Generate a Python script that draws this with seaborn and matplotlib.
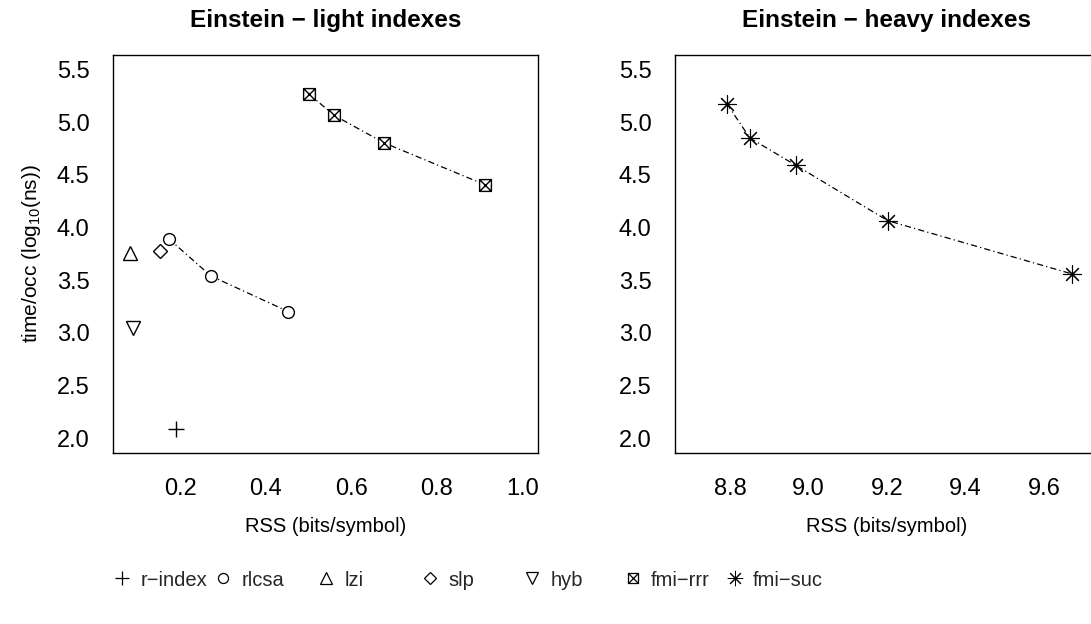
import matplotlib
matplotlib.use("Agg")
import matplotlib.pyplot as plt
from matplotlib.path import Path
from matplotlib.lines import Line2D
import seaborn as sns
import pandas as pd

sns.set_style("white")
plt.rcParams['font.family'] = ['Liberation Sans', 'DejaVu Sans']
plt.rcParams['mathtext.fontset'] = 'custom'
plt.rcParams['mathtext.rm'] = 'Liberation Sans'
plt.rcParams['mathtext.it'] = 'Liberation Sans:italic'

# light indexes (RSS bits/symbol, log10 ns per occurrence)
rindex_x = [0.191]
rindex_y = [2.09]
rlcsa_x = [0.173, 0.272, 0.453]
rlcsa_y = [3.895, 3.540, 3.202]
lzi_x = [0.083]
lzi_y = [3.76]
slp_x = [0.152]
slp_y = [3.775]
hyb_x = [0.089]
hyb_y = [3.05]
fmirrr_x = [0.502, 0.560, 0.676, 0.912]
fmirrr_y = [5.264, 5.065, 4.805, 4.407]

# heavy indexes
fmisuc_x = [8.792, 8.851, 8.968, 9.202, 9.672]
fmisuc_y = [5.175, 4.849, 4.590, 4.065, 3.559]

yticks = [2.0, 2.5, 3.0, 3.5, 4.0, 4.5, 5.0, 5.5]
xticks_light = [0.2, 0.4, 0.6, 0.8, 1.0]
xticks_heavy = [8.8, 9.0, 9.2, 9.4, 9.6]

# square with a cross (R pch 7)
boxx = Path([(-1, -1), (1, -1), (1, 1), (-1, 1), (-1, -1),
             (-1, -1), (1, 1), (-1, 1), (1, -1)],
            [Path.MOVETO, Path.LINETO, Path.LINETO, Path.LINETO, Path.CLOSEPOLY,
             Path.MOVETO, Path.LINETO, Path.MOVETO, Path.LINETO])
asterisk = (8, 2, 0)

styles = {
    'r−index': dict(marker='+', size=12, ew=1.0),
    'rlcsa': dict(marker='o', size=8.5, ew=1.0),
    'lzi': dict(marker='^', size=9.5, ew=1.0),
    'slp': dict(marker='D', size=7.5, ew=1.0),
    'hyb': dict(marker='v', size=9.5, ew=1.0),
    'fmi−rrr': dict(marker=boxx, size=8.5, ew=1.0),
    'fmi−suc': dict(marker=asterisk, size=13, ew=0.8),
}

dash = (0, (5, 2.5, 1, 2.5))

fig = plt.figure(figsize=(10.91, 6.24), dpi=100)
ax1 = fig.add_axes([0.1036, 0.274, 0.3896, 0.6383])
ax2 = fig.add_axes([0.6187, 0.274, 0.3886, 0.6383])


def draw(ax, xs, ys, name, line=False):
    df = pd.DataFrame({'x': xs, 'y': ys})
    st = styles[name]
    if line:
        sns.lineplot(data=df, x='x', y='y', ax=ax, color='black', lw=0.9,
                     linestyle=dash, sort=False, estimator=None)
    ax.plot(df['x'], df['y'], linestyle='none', marker=st['marker'],
            markersize=st['size'], markerfacecolor='white',
            markeredgecolor='black', markeredgewidth=st['ew'])


draw(ax1, rindex_x, rindex_y, 'r−index')
draw(ax1, rlcsa_x, rlcsa_y, 'rlcsa', line=True)
draw(ax1, lzi_x, lzi_y, 'lzi')
draw(ax1, slp_x, slp_y, 'slp')
draw(ax1, hyb_x, hyb_y, 'hyb')
draw(ax1, fmirrr_x, fmirrr_y, 'fmi−rrr', line=True)
draw(ax2, fmisuc_x, fmisuc_y, 'fmi−suc', line=True)

ax1.set_xlim(0.08 - 0.0368, 1.0 + 0.0368)
ax2.set_xlim(8.7 - 0.04, 9.7 + 0.04)
for ax, xt in [(ax1, xticks_light), (ax2, xticks_heavy)]:
    ax.set_ylim(2.0 - 0.14, 5.5 + 0.14)
    ax.set_yticks(yticks)
    ax.set_yticklabels([f"{v:.1f}" for v in yticks])
    ax.set_xticks(xt)
    ax.set_xticklabels([f"{v:.1f}" for v in xt])
    ax.tick_params(axis='both', direction='out', length=9, width=1.0,
                   labelsize=17, color='black', labelcolor='black')
    ax.tick_params(axis='x', pad=9)
    ax.tick_params(axis='y', pad=8)
    for sp in ax.spines.values():
        sp.set_visible(True)
        sp.set_color('black')
        sp.set_linewidth(1.0)
    ax.set_xlabel('RSS (bits/symbol)', fontsize=14.5, labelpad=12, color='black')
    ax.set_ylabel('')

ax1.set_ylabel(r'time/occ (log$_{10}$(ns))', fontsize=15, labelpad=10, color='black')
ax1.set_title('Einstein − light indexes', fontsize=17.5, fontweight='bold', pad=20,
              color='black')
ax2.set_title('Einstein − heavy indexes', fontsize=17.5, fontweight='bold', pad=20,
              color='black')

# R-style horizontal legend: equal-width slots under the plots
slot_x = [114, 215, 318, 422, 524, 625, 727]
for (name, st), px in zip(styles.items(), slot_x):
    h = Line2D([], [], linestyle='none', marker=st['marker'],
               markersize=st['size'] * 0.85, markerfacecolor='white',
               markeredgecolor='black', markeredgewidth=st['ew'] * 0.9)
    fig.legend([h], [name], loc='center left', bbox_to_anchor=(px / 1091, 0.0705),
               frameon=False, fontsize=14.5, handlelength=0.8, handletextpad=0.5,
               borderpad=0, borderaxespad=0)

fig.savefig('out.png', dpi=100)
